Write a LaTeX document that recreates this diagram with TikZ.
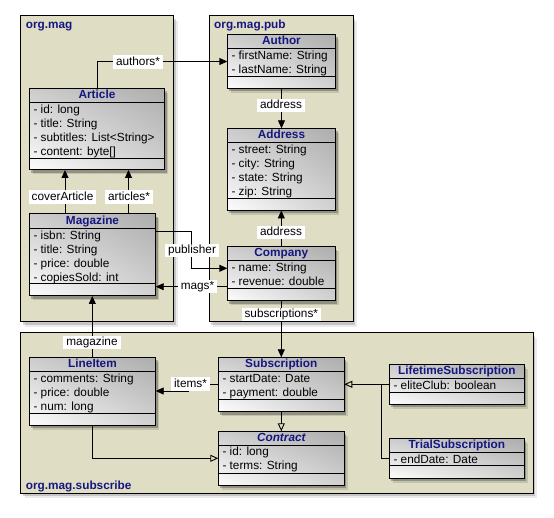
\documentclass[tikz,border=0pt]{standalone}
\usepackage{fontspec}
\setmainfont{Liberation Sans}
\usetikzlibrary{arrows.meta,shadows,shadings}
\definecolor{pkgfill}{RGB}{223,221,196}
\definecolor{navy}{RGB}{22,22,128}
\definecolor{shUL}{gray}{0.80}
\definecolor{shUR}{gray}{0.68}
\definecolor{shLL}{gray}{0.99}
\definecolor{shLR}{gray}{0.82}
\newcommand\basefont{\fontsize{11.8}{14}\selectfont}
\tikzset{
  pkgbox/.style={draw, line width=1pt, fill=pkgfill, inner sep=0pt, outer sep=0pt,
    drop shadow={shadow xshift=2pt, shadow yshift=-3pt, opacity=0.16, fill=black},
    drop shadow={shadow xshift=4pt, shadow yshift=-5pt, opacity=0.08, fill=black}},
  pkglabel/.style={anchor=base west, inner sep=0pt, text=navy, font=\basefont\bfseries},
  classbox/.style={draw, line width=1pt, inner sep=0pt, outer sep=0pt,
    upper left=shUL, upper right=shUR, lower left=shLL, lower right=shLR,
    drop shadow={shadow xshift=2pt, shadow yshift=-3pt, opacity=0.25, fill=black},
    drop shadow={shadow xshift=3.5pt, shadow yshift=-4.5pt, opacity=0.12, fill=black}},
  classline/.style={line width=1pt},
  classtitle/.style={anchor=base, inner sep=0pt, text=navy, font=\basefont\bfseries},
  classattr/.style={anchor=north west, align=left, inner sep=0pt, font=\basefont},
  assoc/.style={line width=0.9pt, -{Triangle[length=8pt,width=7pt]}},
  gen/.style={line width=0.9pt, -{Triangle[open,length=8pt,width=7pt]}},
  plainline/.style={line width=0.9pt},
  elabel/.style={fill=white, inner xsep=3pt, inner ysep=0.7pt, text height=9pt, text depth=2.8pt, font=\basefont}
}
% #1 name, #2 x1, #3 y1, #4 x2, #5 y2, #6 title bottom, #7 attr bottom, #8 title, #9 attributes
\newcommand\umlclass[9]{%
  \node[classbox, minimum width={#4-#2}, minimum height={#5-#3}] (#1) at ({(#2+#4)/2},{(#3+#5)/2}) {};
  \draw[classline] (#1.west |- 0,#6) -- (#1.east |- 0,#6);
  \draw[classline] (#1.west |- 0,#7) -- (#1.east |- 0,#7);
  \node[classtitle] (#1-t) at ({(#2+#4)/2},{#6-3.9}) {#8};
  \node[classattr] (#1-a) at ({#2+4},#6) {\rule{0pt}{10.7pt}#9};
}
\begin{document}
\begin{tikzpicture}[x=1pt,y=-1pt]
\useasboundingbox (0,0) rectangle (554,518);
% packages
\node[pkgbox, minimum width=152.8, minimum height=306] (pmag) at (97.1,169) {};
\node[pkgbox, minimum width=144, minimum height=306] (ppub) at (281.3,169) {};
\node[pkgbox, minimum width=512.6, minimum height=160.3] (psub) at (277,413.15) {};
\node[pkglabel] (pmag-l) at (25.7,28.3) {org.mag};
\node[pkglabel] (ppub-l) at (214,28.3) {org.mag.pub};
\node[pkglabel] (psub-l) at (25.7,489.5) {org.mag.subscribe};
% classes
\umlclass{Article}{29.3}{88.3}{164.7}{170}{102.7}{158.3}{Article}{- id: long\\- title: String\\- subtitles: List<String>\\- content: byte[]}
\umlclass{Magazine}{29.3}{214}{155.7}{296}{228.3}{284}{Magazine}{- isbn: String\\- title: String\\- price: double\\- copiesSold: int}
\umlclass{Author}{227.3}{34.5}{335.7}{88.3}{48.3}{76.4}{Author}{- firstName: String\\- lastName: String}
\umlclass{Address}{227.3}{128.3}{335.7}{210.5}{142.3}{199}{Address}{- street: String\\- city: String\\- state: String\\- zip: String}
\umlclass{Company}{227.3}{246.7}{335.3}{300.7}{260.7}{288.3}{Company}{- name: String\\- revenue: double}
\umlclass{LineItem}{29.3}{357.3}{155.7}{425.3}{371.7}{413.3}{LineItem}{- comments: String\\- price: double\\- num: long}
\umlclass{Subscription}{218.3}{357.3}{344.3}{411.5}{371.7}{399.3}{Subscription}{- startDate: Date\\- payment: double}
\umlclass{Contract}{218.3}{431.3}{344.3}{485.3}{445}{473.3}{\itshape Contract}{- id: long\\- terms: String}
\umlclass{Lifetime}{389.3}{364.3}{524.3}{404}{378.7}{392}{LifetimeSubscription}{- eliteClub: boolean}
\umlclass{Trial}{389.3}{438.3}{524.3}{478}{452.3}{465.7}{TrialSubscription}{- endDate: Date}
% connectors
\draw[assoc] (Article.north -| 97,0) |- (Author.west |- 0,61.5);
\draw[assoc] (Author.south) -- (Address.north);
\draw[assoc] (Magazine.north -| 65,0) -- (Article.south -| 65,0);
\draw[assoc] (Magazine.north -| 128.5,0) -- (Article.south -| 128.5,0);
\draw[assoc] (Company.north) -- (Address.south -| Company.north);
\draw[assoc] (Magazine.east |- 0,231.7) -- (191.7,231.7) |- (Company.west |- 0,268.3);
\draw[assoc] (Company.west |- 0,286.7) -- (Magazine.east |- 0,286.7);
\draw[assoc] (LineItem.north -| 92.3,0) -- (Magazine.south -| 92.3,0);
\draw[assoc] (Company.south) -- (Subscription.north -| Company.south);
\draw[assoc] (Subscription.west |- 0,384) -- (188,384) |- (LineItem.east |- 0,391);
\draw[gen] (Subscription.south) -- (Contract.north);
\draw[gen] (LineItem.south -| 92.3,0) |- (Contract.west |- 0,458.3);
\draw[gen] (Lifetime.west |- 0,384.3) -- (Subscription.east |- 0,384.3);
\coordinate (junc) at (381,384.3);
\draw[plainline] (Trial.west |- 0,458.3) -| (junc);
% labels
\node[elabel] (l-authors) at (138,62) {authors*};
\node[elabel] (l-address1) at (281,105.3) {address};
\node[elabel] (l-cover) at (62.5,197) {coverArticle};
\node[elabel] (l-articles) at (129,197) {articles*};
\node[elabel] (l-address2) at (281,232.7) {address};
\node[elabel] (l-publisher) at (192,250.3) {publisher};
\node[elabel] (l-mags) at (197.5,286.3) {mags*};
\node[elabel] (l-magazine) at (92,342.7) {magazine};
\node[elabel] (l-subs) at (281.3,314.7) {subscriptions*};
\node[elabel] (l-items) at (190.5,384) {items*};
\end{tikzpicture}
\end{document}
